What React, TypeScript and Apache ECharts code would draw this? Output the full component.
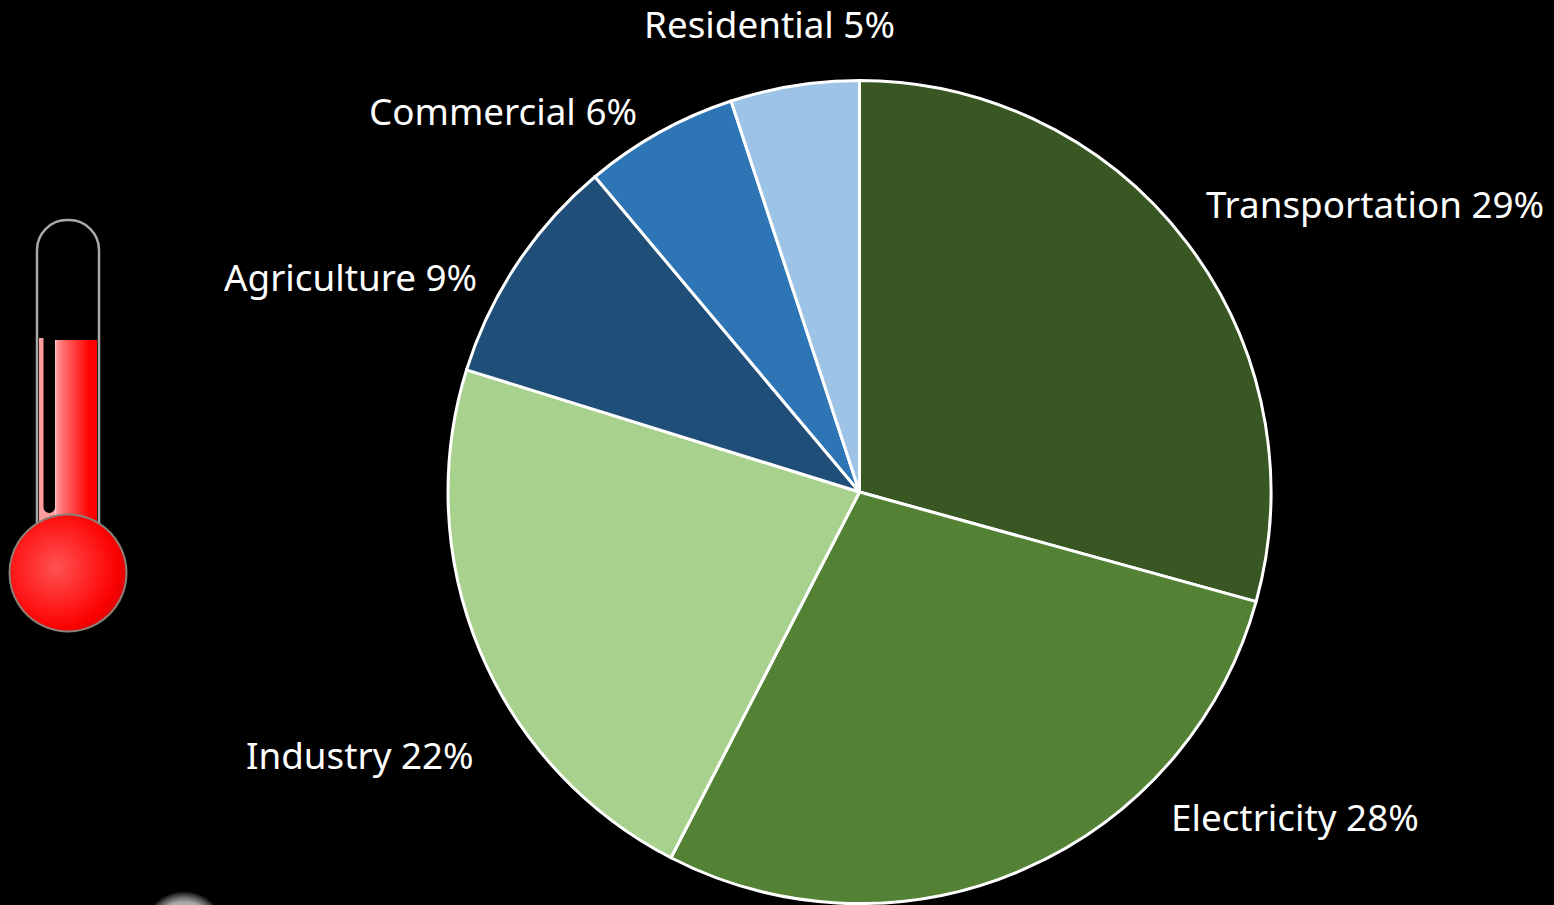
import React, { useEffect, useRef } from "react";
import * as echarts from "echarts";

// Shares of greenhouse gas emissions by sector, in percent
const sectors = ["Transportation", "Electricity", "Industry", "Agriculture", "Commercial", "Residential"];
const shares = [29, 28, 22, 9, 6, 5];
const sliceColors = ["#385723", "#548235", "#A9D18E", "#1F4E79", "#2E75B6", "#9DC3E6"];
// Left edge and vertical middle of each sector's caption
const captionX = [1206, 1171, 246, 224, 369, 644];
const captionY = [204, 817, 755, 277, 111, 24];

const FONT = "'Noto Sans', 'Open Sans', sans-serif";
const TUBE_GRAY = "#a8a8a8";

const columnFill = new echarts.graphic.LinearGradient(0, 0, 1, 0, [
  { offset: 0, color: "#ffd0d0" },
  { offset: 0.06, color: "#ff9090" },
  { offset: 0.2, color: "#ff6c6c" },
  { offset: 0.55, color: "#ff3030" },
  { offset: 0.8, color: "#ff0404" },
  { offset: 1, color: "#ff0000" },
]);
const bulbFill = new echarts.graphic.RadialGradient(0.4, 0.45, 0.62, [
  { offset: 0, color: "#ff5252" },
  { offset: 0.6, color: "#ff1818" },
  { offset: 0.85, color: "#fa0000" },
  { offset: 1, color: "#dc0808" },
]);
const glowFill = new echarts.graphic.RadialGradient(0.5, 0.5, 0.5, [
  { offset: 0, color: "#c8c8c8" },
  { offset: 0.74, color: "#a8a8a8" },
  { offset: 0.9, color: "#484848" },
  { offset: 1, color: "#000000" },
]);

// The thermometer beside the pie, and a faint round shape at the bottom edge
const thermometer = [
  { type: "circle", shape: { cx: 184, cy: 933, r: 42 }, style: { fill: glowFill } },
  { type: "rect", shape: { x: 39, y: 338, width: 5, height: 186 }, style: { fill: "#ff9c9c" } },
  { type: "rect", shape: { x: 39, y: 508, width: 24, height: 20 }, style: { fill: "#ff9c9c" } },
  { type: "rect", shape: { x: 55, y: 340, width: 42, height: 186 }, style: { fill: columnFill } },
  {
    type: "rect",
    shape: { x: 43.5, y: 336, width: 11.5, height: 177, r: [0, 0, 6, 6] },
    style: { fill: "#000000" },
  },
  {
    type: "rect",
    shape: { x: 37, y: 220, width: 62, height: 310, r: [30, 30, 0, 0] },
    style: { fill: "none", stroke: TUBE_GRAY, lineWidth: 2.5 },
  },
  {
    type: "circle",
    shape: { cx: 68, cy: 573, r: 58.5 },
    style: { fill: bulbFill, stroke: "#8a8078", lineWidth: 2 },
  },
];

export default function App() {
  const host = useRef<HTMLDivElement>(null);

  useEffect(() => {
    document.body.style.margin = "0";
    document.body.style.background = "#000";
    document.body.style.overflow = "hidden";
    const chart = echarts.init(host.current!, null, { renderer: "svg" });
    chart.setOption({
      animation: false,
      backgroundColor: "#000000",
      graphic: { elements: thermometer },
      series: [
        {
          type: "pie",
          center: [859.5, 492],
          radius: [0, 411.5],
          startAngle: 90,
          clockwise: true,
          avoidLabelOverlap: false,
          silent: true,
          data: sectors.map((name, i) => ({
            name,
            value: shares[i],
            itemStyle: { color: sliceColors[i] },
          })),
          itemStyle: { borderColor: "#ffffff", borderWidth: 3 },
          label: {
            show: true,
            position: "outside",
            color: "#ffffff",
            fontFamily: FONT,
            fontSize: 36.8,
            formatter: "{b} {c}%",
          },
          labelLine: { show: false },
          labelLayout: (p: { dataIndex: number }) => ({
            x: captionX[p.dataIndex],
            y: captionY[p.dataIndex],
            align: "left",
            verticalAlign: "middle",
          }),
        },
      ],
    });
    return () => chart.dispose();
  }, []);

  return <div ref={host} style={{ position: "fixed", left: 0, top: 0, width: 1554, height: 905 }} />;
}
